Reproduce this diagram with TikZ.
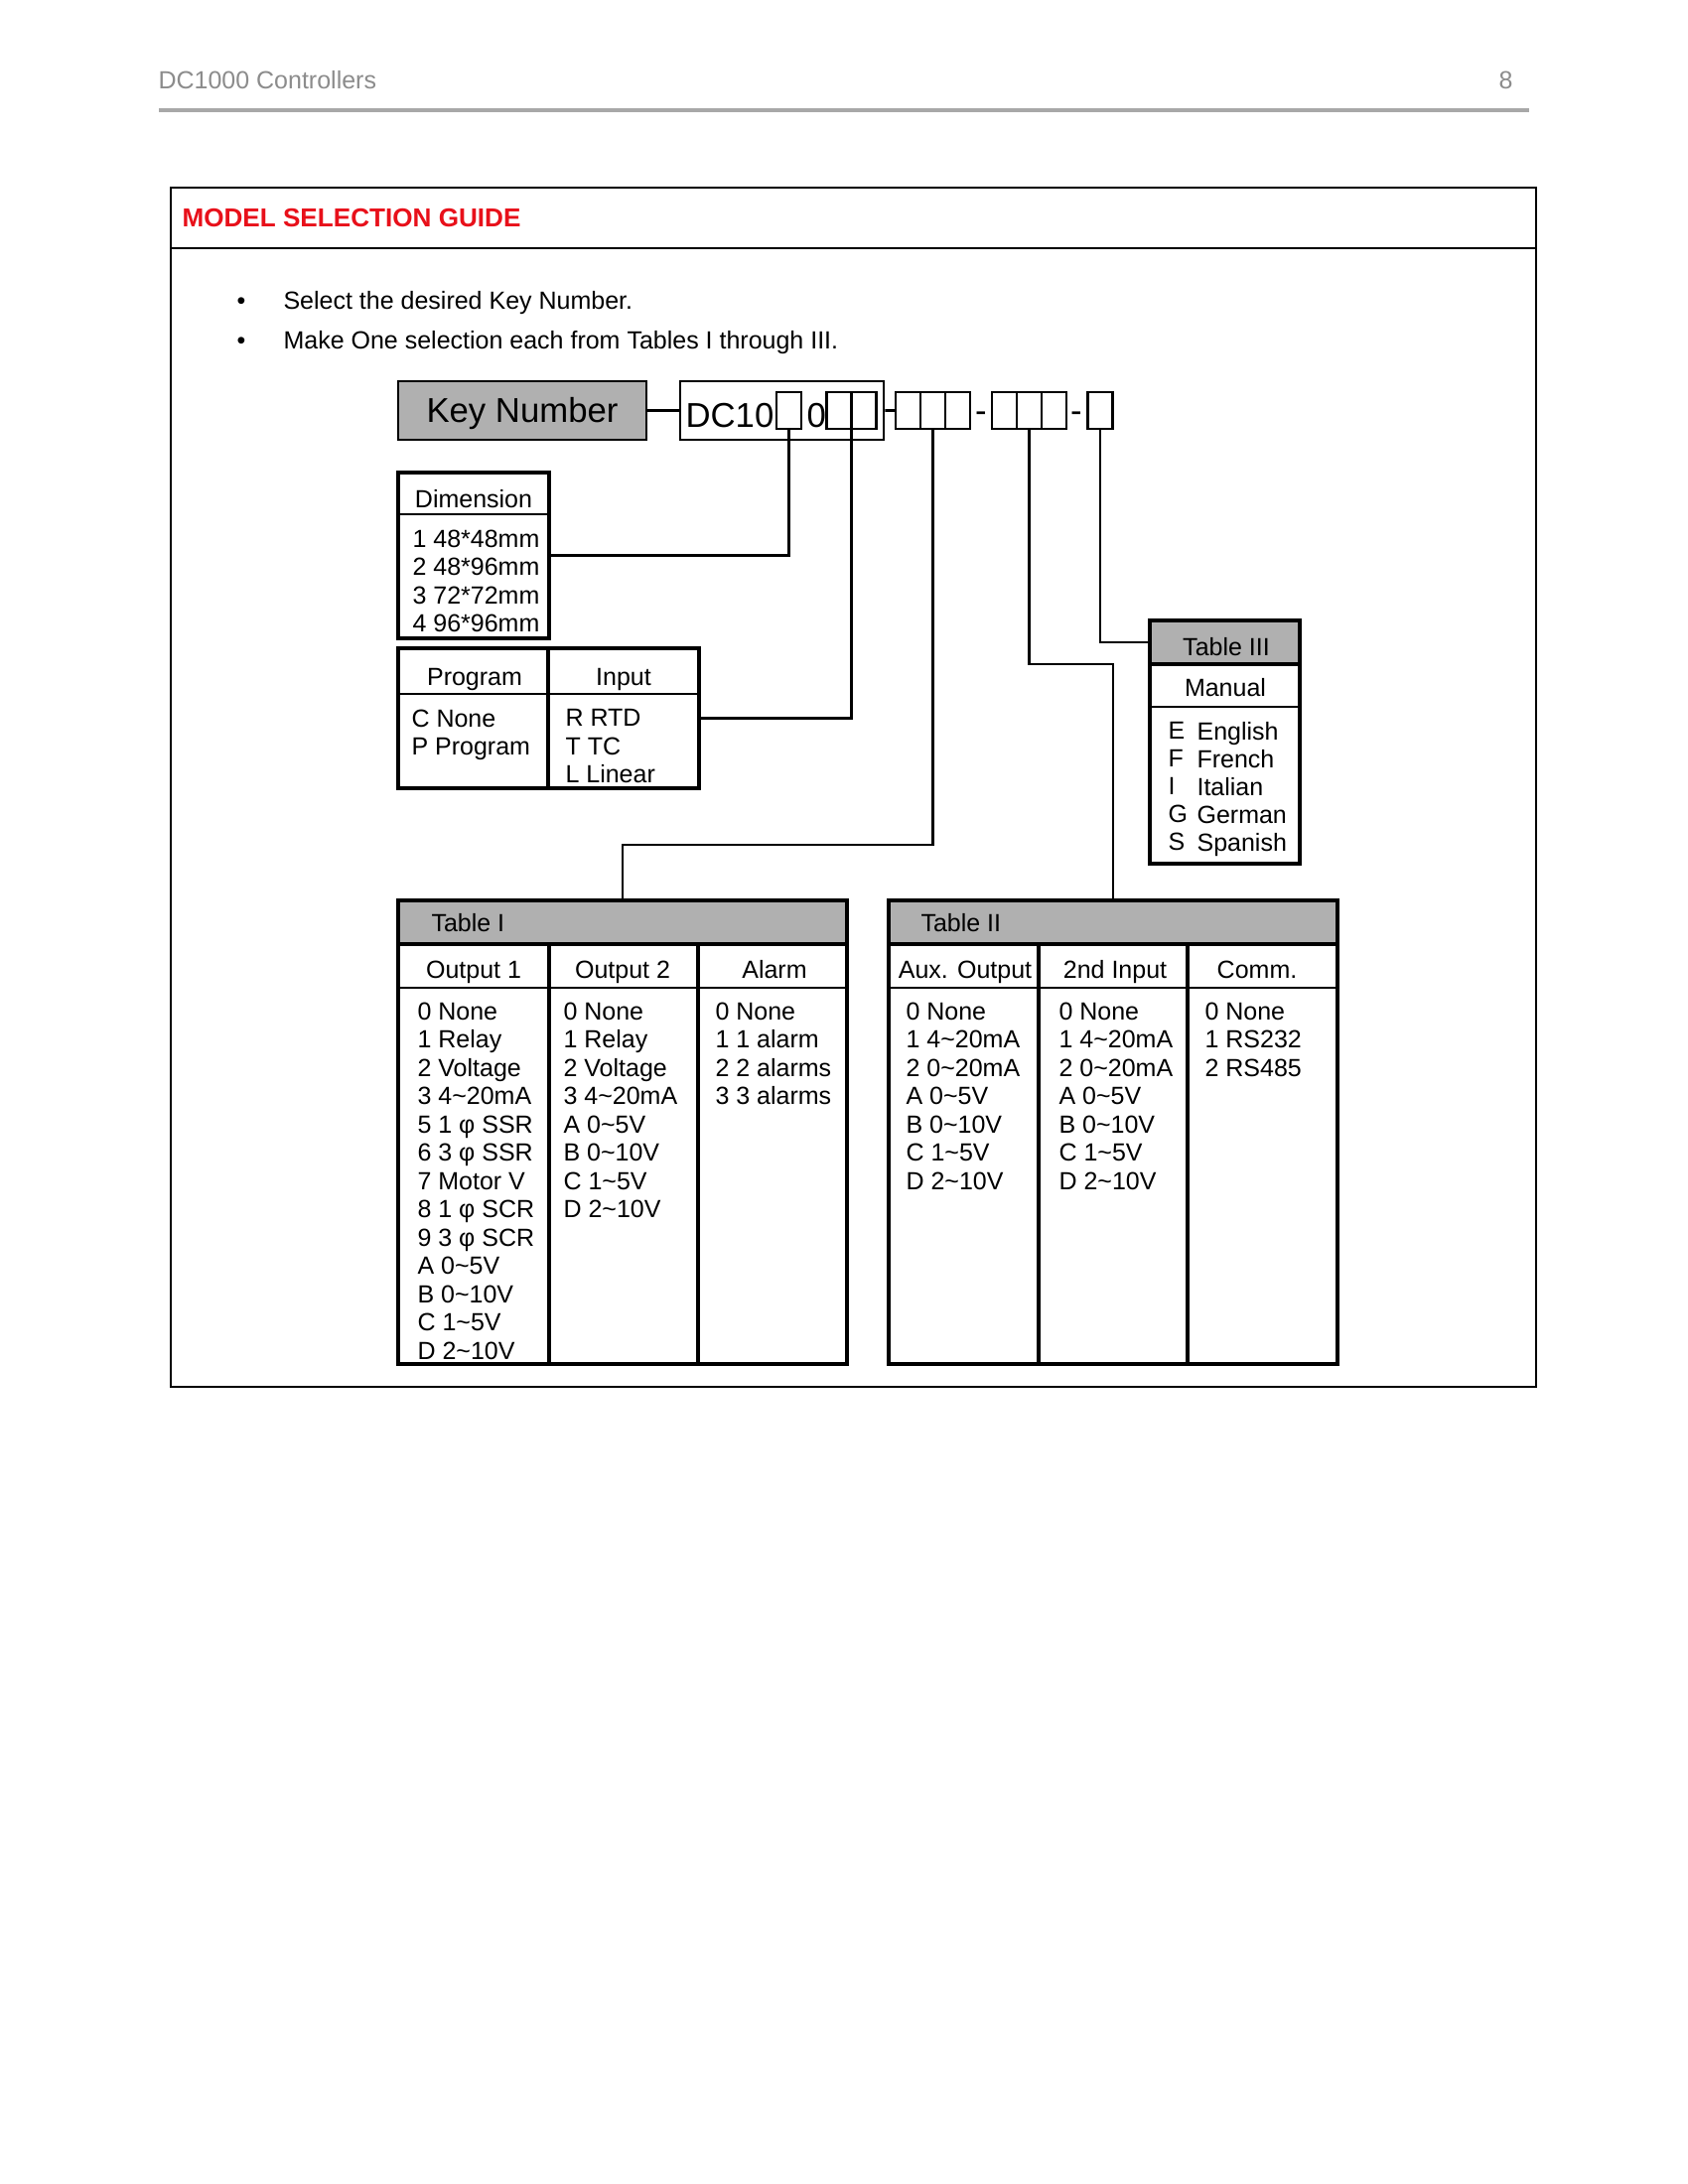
\documentclass[tikz,border=0pt]{standalone}
\usepackage{fontspec}
\setmainfont{Liberation Sans}
\usepackage{tikz}
\usetikzlibrary{positioning, fit}
\definecolor{headgray}{HTML}{B0B0B0}
\definecolor{pagegray}{HTML}{8C8C8C}
\definecolor{rulegray}{HTML}{A8A8A8}
\definecolor{titlered}{HTML}{E8101A}
\newcommand{\tld}{\textasciitilde}

\begin{document}
\begin{tikzpicture}[
    x=0.36pt, y=-0.36pt,
    every node/.style={font=\fontsize{9}{10.26}\selectfont, inner sep=0pt},
    big/.style={font=\fontsize{12.5}{15}\selectfont},
    keybox/.style={
        rectangle,
        draw,
        line width=1pt,
        fill=headgray
    },
    codebox/.style={rectangle, draw, line width=0.9pt},
    slot/.style={
        rectangle,
        draw,
        line width=0.75pt,
        outer sep=0pt,
        minimum width=9pt,
        minimum height=13.32pt
    },
    frame/.style={rectangle, draw, line width=1.6pt},
    headcell/.style={frame, fill=headgray},
    caption/.style={anchor=base},
    list/.style={anchor=north west, align=left},
    pagehead/.style={text=pagegray},
    sep/.style={line width=0.8pt},
    link/.style={line width=1pt}
]

\fill[white] (0,0) rectangle (1700,2200);
\useasboundingbox (0,0) rectangle (1700,2200);

% page header
\node[pagehead, anchor=base west] (doctitle) at (159,90) {DC1000 Controllers};
\node[pagehead, anchor=base east] (pagenum) at (1524,90) {8};
\draw[rulegray, line width=1.44pt] (160,111) -- (1540,111);

\draw[line width=1pt] (172,189) rectangle (1547,1397);
\draw[sep] (172,250) -- (1547,250);
\node[anchor=base west, text=titlered, font=\fontsize{9.4}{11}\selectfont\bfseries] (guide) at (183,229) {MODEL SELECTION GUIDE};

\node[caption] (dot1) at (243,312) {\textbullet};
\node[caption] (dot2) at (243,351) {\textbullet};
\node[anchor=base west] (step1) at (285,312) {Select the desired Key Number.};
\node[anchor=base west] (step2) at (285,351) {Make One selection each from Tables I through III.};

% key number
\node[keybox, fit={(401,384) (651,443)}] (keynum) {};
\node[big, caption] (keylabel) at (526,425) {Key Number};
\node[codebox, fit={(685,384) (890,443)}] (dcbox) {};
\node[big, anchor=base west] (dcprefix) at (690,430) {DC10};
\node[big, anchor=base west] (dczero) at (812,430) {0};
\node[slot] (s1) at (794.5,413.5) {};
\node[slot] (s2) at (845,413.5) {};
\node[slot, right=0pt of s2] (s3) {};
\node[slot] (a1) at (914.5,413.5) {};
\node[slot, right=0pt of a1] (a2) {};
\node[slot, right=0pt of a2] (a3) {};
\node[big, caption] (dash1) at (988,425) {-};
\node[slot] (b1) at (1011.5,413.5) {};
\node[slot, right=0pt of b1] (b2) {};
\node[slot, right=0pt of b2] (b3) {};
\node[big, caption] (dash2) at (1084,425) {-};
\node[slot] (c1) at (1108,413.5) {};

% dimension
\node[frame, fit={(401,476) (553,643)}] (dim) {};
\draw[sep] (401,518) -- (553,518);
\node[caption] (dimtitle) at (477,511) {Dimension};
\node[list] (dimlist) at (415,533) {1 48*48mm\\2 48*96mm\\3 72*72mm\\4 96*96mm};

% program / input
\node[frame, fit={(401,653) (552,794)}] (progcol) {};
\node[frame, fit={(552,653) (704,794)}] (inputcol) {};
\draw[sep] (401,699) -- (704,699);
\node[caption] (progtitle) at (478,690) {Program};
\node[caption] (inputtitle) at (628,690) {Input};
\node[list] (proglist) at (414,714) {C None\\P Program};
\node[list] (inputlist) at (569,714) {R RTD\\T TC\\L Linear};

% table III
\node[headcell, fit={(1158,625) (1309,669)}] (t3head) {};
\node[frame, fit={(1158,669) (1309,870)}] (t3) {};
\draw[sep] (1158,712) -- (1309,712);
\node[caption] (t3title) at (1235,660) {Table III};
\node[caption] (t3col) at (1234,701.5) {Manual};
\node[list, font=\fontsize{9}{10.08}\selectfont] (t3keys) at (1176,727) {E\\F\\I\\G\\S};
\node[list, font=\fontsize{9}{10.08}\selectfont] (t3names) at (1205,727) {English\\French\\Italian\\German\\Spanish};

% table I
\node[headcell, fit={(401,907) (853,951)}] (t1head) {};
\node[frame, fit={(401,951) (553,1374)}] (t1a) {};
\node[frame, fit={(553,951) (703,1374)}] (t1b) {};
\node[frame, fit={(703,951) (853,1374)}] (t1c) {};
\draw[sep] (401,995) -- (853,995);
\node[anchor=base west] (t1title) at (434,938) {Table I};
\node[caption] (t1h1) at (477,985) {Output 1};
\node[caption] (t1h2) at (627,985) {Output 2};
\node[caption] (t1h3) at (780,985) {Alarm};
\node[list] (t1l1) at (420,1009) {0 None\\1 Relay\\2 Voltage\\3 4\tld20mA\\5 1 φ SSR\\6 3 φ SSR\\7 Motor V\\8 1 φ SCR\\9 3 φ SCR\\A 0\tld5V\\B 0\tld10V\\C 1\tld5V\\D 2\tld10V};
\node[list] (t1l2) at (567,1009) {0 None\\1 Relay\\2 Voltage\\3 4\tld20mA\\A 0\tld5V\\B 0\tld10V\\C 1\tld5V\\D 2\tld10V};
\node[list] (t1l3) at (720,1009) {0 None\\1 1 alarm\\2 2 alarms\\3 3 alarms};

% table II
\node[headcell, fit={(895,907) (1347,951)}] (t2head) {};
\node[frame, fit={(895,951) (1046,1374)}] (t2a) {};
\node[frame, fit={(1046,951) (1196,1374)}] (t2b) {};
\node[frame, fit={(1196,951) (1347,1374)}] (t2c) {};
\draw[sep] (895,995) -- (1347,995);
\node[anchor=base west] (t2title) at (927,938) {Table II};
\node[caption] (t2h1) at (972,985) {Aux. Output};
\node[caption] (t2h2) at (1123,985) {2nd Input};
\node[caption] (t2h3) at (1266,985) {Comm.};
\node[list] (t2l1) at (912,1009) {0 None\\1 4\tld20mA\\2 0\tld20mA\\A 0\tld5V\\B 0\tld10V\\C 1\tld5V\\D 2\tld10V};
\node[list] (t2l2) at (1066,1009) {0 None\\1 4\tld20mA\\2 0\tld20mA\\A 0\tld5V\\B 0\tld10V\\C 1\tld5V\\D 2\tld10V};
\node[list] (t2l3) at (1213,1009) {0 None\\1 RS232\\2 RS485};

% CONNECTORS
\draw[link] (keynum.east) -- (dcbox.west);
\draw[link] (dcbox.east) -- (a1.west);
\draw[link] (s1.south) |- (dim.east);
\draw[link] (s2.south east) |- (inputcol.east);
\draw[link] (a2.south) -- ++(0,419) -| (t1head.north);
\draw[link] (b2.south) -- ++(0,237) -| (t2head.north);
\draw[link] (c1.south) |- (t3head.west);

\end{tikzpicture}
\end{document}
